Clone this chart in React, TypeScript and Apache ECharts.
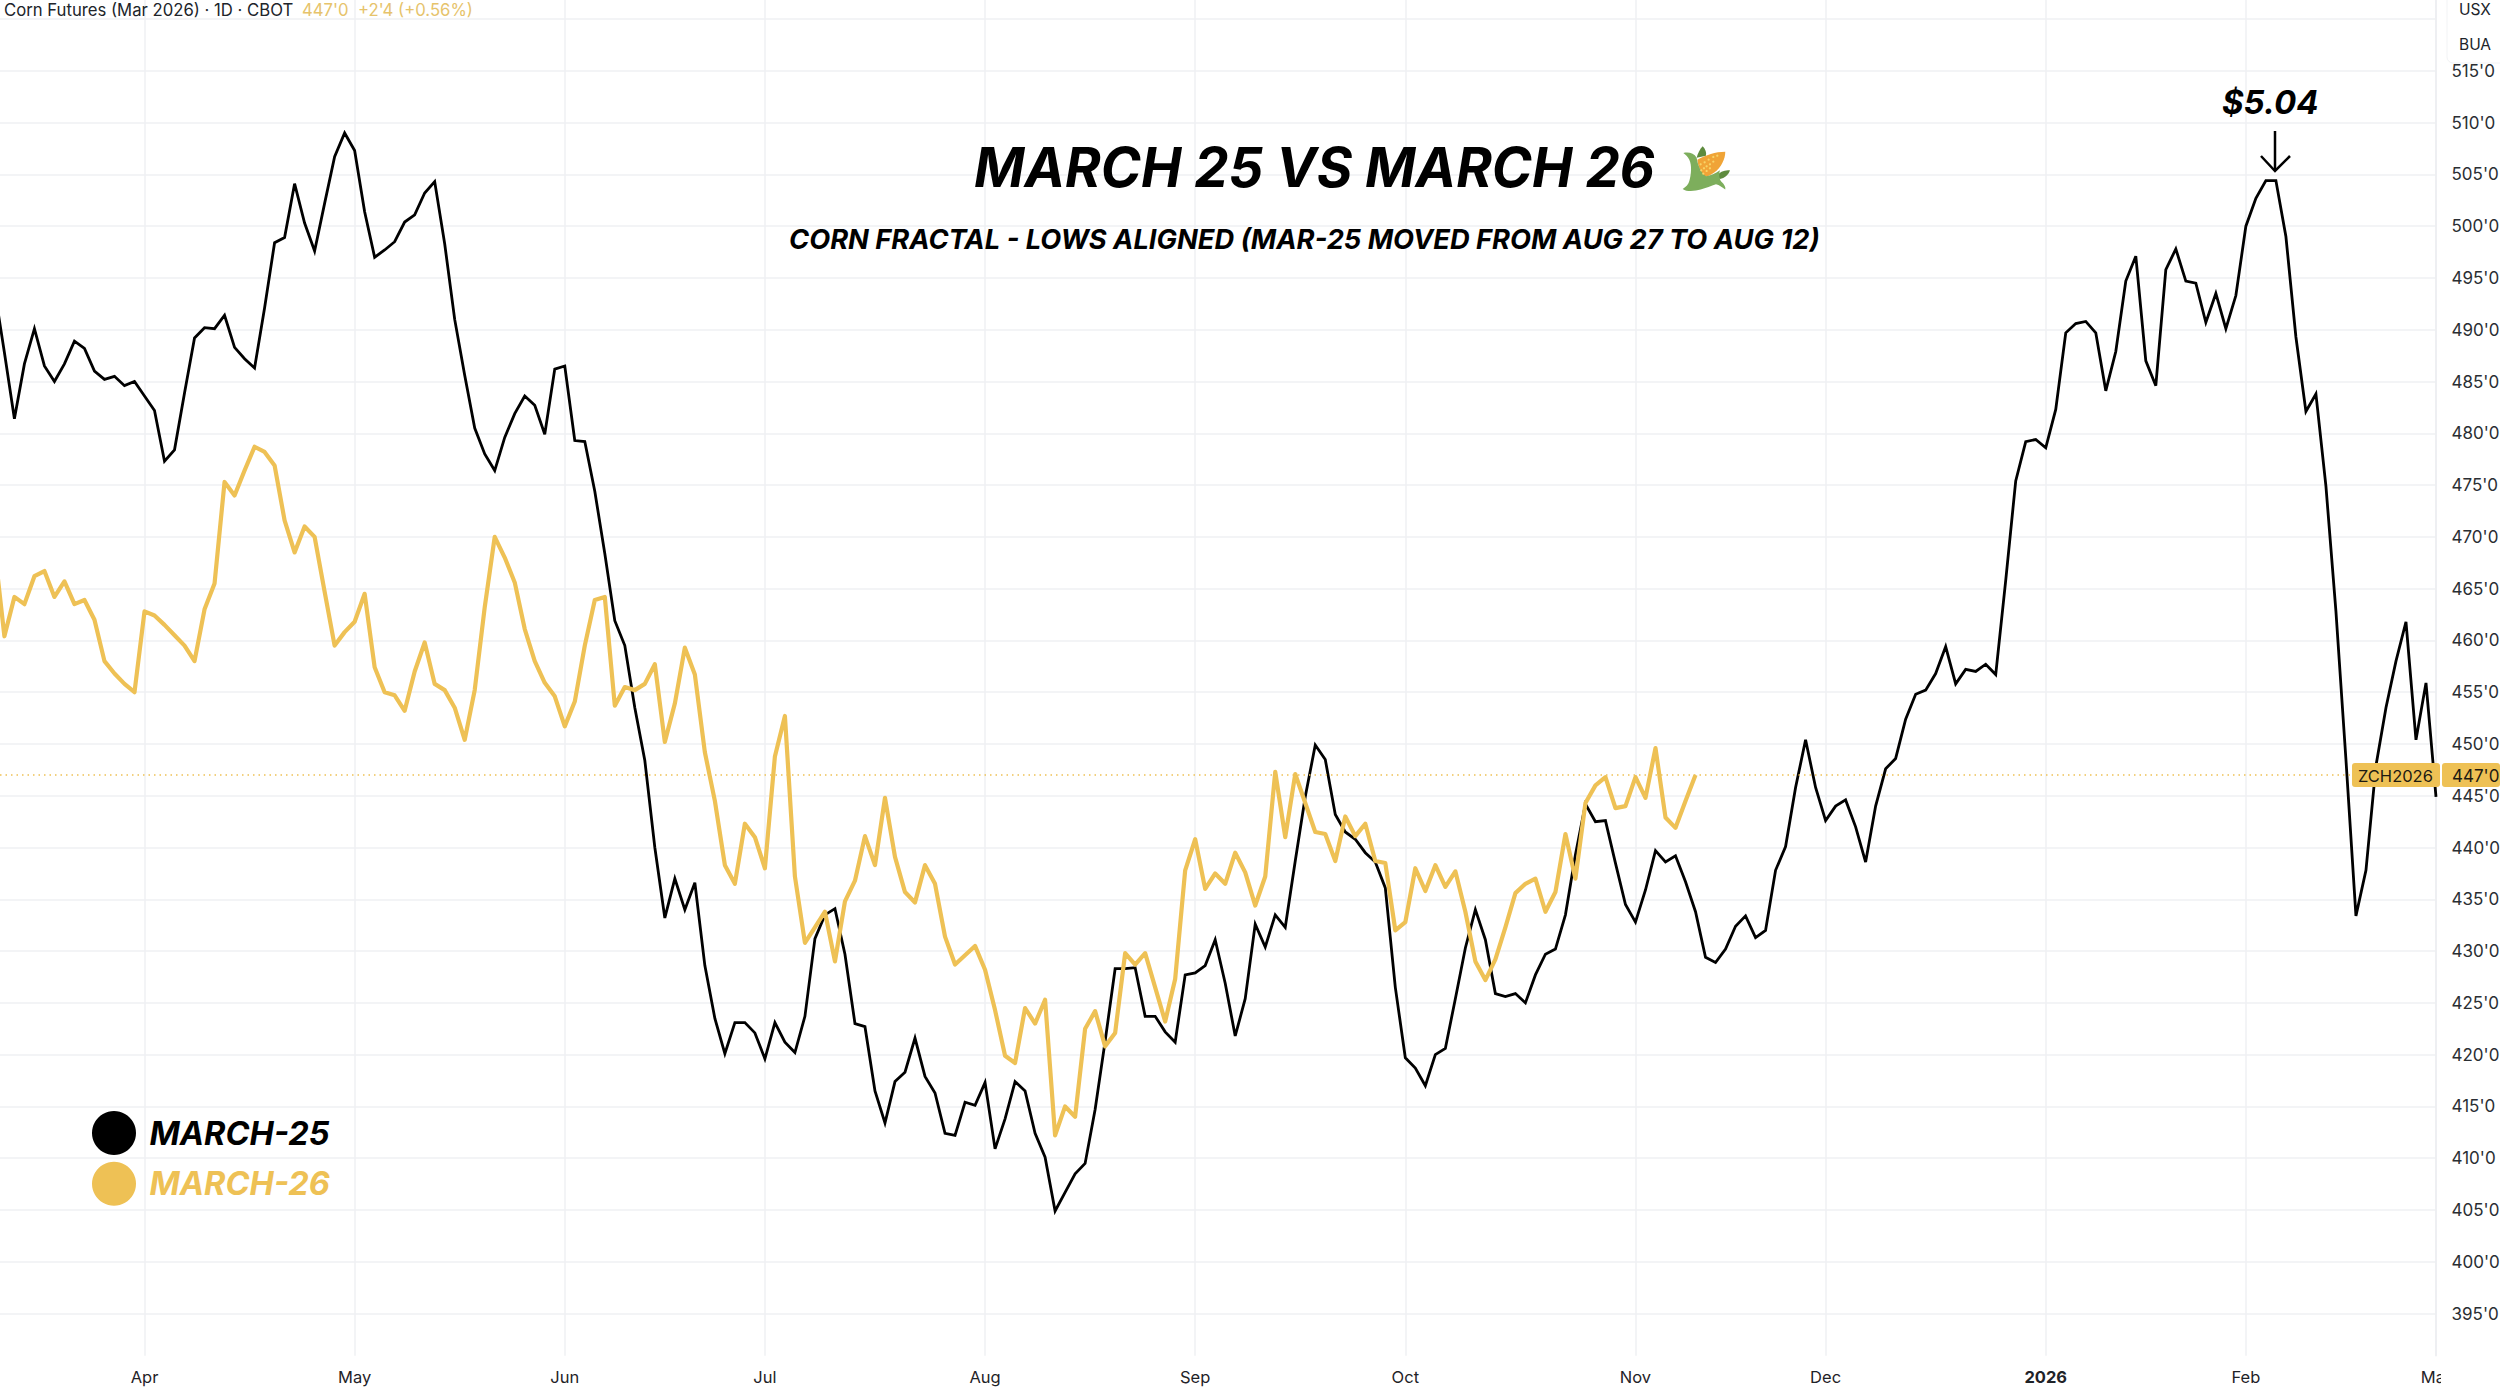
import React, { useEffect, useRef } from "react";
import * as echarts from "echarts";

// Close prices in US cents per bushel, one value per trading bar (bar 0 starts just off the left edge).
const march25 = [
  494.0, 487.8, 481.4, 486.7, 490.1, 486.5, 485.0, 486.7, 488.9, 488.2,
  486.0, 485.2, 485.5, 484.6, 485.0, 483.6, 482.2, 477.3, 478.4, 483.9,
  489.2, 490.2, 490.1, 491.4, 488.3, 487.2, 486.3, 492.1, 498.4, 498.9,
  504.1, 500.3, 497.6, 502.2, 506.7, 509.0, 507.3, 501.4, 497.0, 497.7,
  498.5, 500.4, 501.1, 503.2, 504.3, 498.3, 491.0, 485.6, 480.5, 478.0,
  476.4, 479.6, 481.9, 483.6, 482.7, 479.9, 486.2, 486.5, 479.3, 479.2,
  474.4, 468.4, 461.9, 459.5, 453.5, 448.4, 440.0, 433.2, 437.0, 434.0,
  436.6, 428.6, 423.5, 420.1, 423.1, 423.1, 422.1, 419.6, 423.1, 421.2,
  420.2, 423.7, 431.2, 433.5, 434.1, 429.7, 423.0, 422.7, 416.5, 413.4,
  417.4, 418.3, 421.6, 417.9, 416.3, 412.4, 412.2, 415.4, 415.1, 417.3,
  410.9, 413.8, 417.4, 416.5, 412.4, 410.1, 404.9, 406.7, 408.5, 409.5,
  414.7, 421.3, 428.3, 428.3, 428.4, 423.7, 423.7, 422.2, 421.2, 427.7,
  427.9, 428.6, 431.1, 426.9, 421.8, 425.4, 432.6, 430.4, 433.5, 432.3,
  438.7, 444.9, 449.9, 448.5, 443.2, 441.5, 440.8, 439.5, 438.6, 436.1,
  426.5, 419.7, 418.7, 417.0, 420.0, 420.6, 425.4, 430.3, 434.0, 431.1,
  425.9, 425.6, 425.9, 425.0, 427.7, 429.7, 430.2, 433.5, 439.3, 444.2,
  442.5, 442.6, 438.5, 434.5, 432.8, 435.9, 439.7, 438.6, 439.2, 436.7,
  433.8, 429.4, 428.9, 430.2, 432.4, 433.4, 431.3, 432.0, 437.8, 440.1,
  445.8, 450.4, 445.8, 442.6, 444.0, 444.6, 442.0, 438.6, 444.0, 447.6,
  448.6, 452.4, 454.8, 455.2, 456.8, 459.4, 455.8, 457.2, 457.0, 457.7,
  456.7, 465.8, 475.4, 479.2, 479.4, 478.6, 482.3, 489.7, 490.6, 490.8,
  489.7, 484.1, 487.9, 494.7, 497.1, 487.0, 484.6, 495.8, 497.8, 494.7,
  494.5, 490.7, 493.5, 490.1, 493.3, 500.0, 502.7, 504.4, 504.4, 499.0,
  489.3, 482.1, 483.8, 474.9, 462.8, 448.5, 433.4, 437.8, 447.9, 453.5,
  458.0, 461.8, 450.4, 455.9, 444.9,
];

const march26 = [
  469.0, 460.4, 464.2, 463.5, 466.2, 466.7, 464.2, 465.7, 463.5, 463.9,
  462.0, 458.0, 456.8, 455.8, 455.0, 462.8, 462.4, 461.5, 460.5, 459.5,
  458.0, 463.0, 465.5, 475.3, 474.0, 476.4, 478.7, 478.2, 476.9, 471.6,
  468.5, 471.0, 470.0, 464.7, 459.5, 460.8, 461.8, 464.5, 457.4, 455.0,
  454.7, 453.2, 457.0, 459.8, 455.8, 455.2, 453.5, 450.4, 455.2, 463.2,
  470.0, 468.0, 465.6, 461.1, 458.0, 455.9, 454.6, 451.7, 454.1, 459.5,
  463.9, 464.2, 453.7, 455.5, 455.2, 455.8, 457.7, 450.2, 453.9, 459.3,
  456.7, 449.2, 444.5, 438.3, 436.5, 442.3, 441.0, 438.0, 448.8, 452.7,
  437.2, 430.8, 432.3, 433.8, 429.0, 434.8, 436.8, 441.1, 438.3, 444.8,
  439.1, 435.7, 434.7, 438.3, 436.5, 431.4, 428.7, 429.6, 430.5, 428.2,
  424.3, 419.9, 419.2, 424.5, 423.0, 425.3, 412.2, 415.0, 414.0, 422.5,
  424.2, 420.8, 422.1, 429.8, 428.7, 429.8, 426.5, 423.2, 427.3, 437.8,
  440.8, 436.0, 437.5, 436.5, 439.5, 437.6, 434.4, 437.2, 447.3, 441.0,
  447.1, 444.3, 441.5, 441.3, 438.7, 443.0, 441.1, 442.3, 438.7, 438.5,
  432.0, 432.8, 438.0, 435.8, 438.3, 436.2, 437.7, 433.8, 429.0, 427.2,
  429.2, 432.3, 435.6, 436.5, 437.0, 433.8, 435.7, 441.3, 437.0, 444.3,
  446.0, 446.8, 443.8, 444.0, 446.8, 444.8, 449.6, 442.9, 441.9, 444.5,
  447.0,
];

const monthLabels = ["Apr", "May", "Jun", "Jul", "Aug", "Sep", "Oct", "Nov", "Dec", "2026", "Feb", "Mar"];
const monthBars = [15, 36, 57, 77, 99, 120, 141, 164, 183, 205, 225, 244];
const priceLabels = [395, 400, 405, 410, 415, 420, 425, 430, 435, 440, 445, 450, 455, 460, 465, 470, 475, 480, 485, 490, 495, 500, 505, 510, 515];
const priceGrid = [...priceLabels, 520];
const lastPrice = 447;

const BLACK = "#000000";
const GOLD = "#EEC155";
const FONT = "Inter, 'Noto Sans', sans-serif";

const W = 2500;
const H = 1387;
const PLOT_W = 2436;
const PLOT_H = 1355.8;

echarts.graphic.registerShape(
  "cornHusk",
  echarts.graphic.extendPath(
    "M40 54 C55 50 72 54 80 68 C84 92 92 112 108 124 C122 122 136 116 150 106 C146 120 148 134 156 142 C162 148 168 156 166 164 C158 158 148 150 138 148 C124 152 108 160 92 164 C76 168 52 172 38 162 C48 156 56 148 58 138 C64 118 66 90 58 74 C54 66 48 60 40 54 Z",
    {}
  )
);
echarts.graphic.registerShape(
  "cornCob",
  echarts.graphic.extendPath(
    "M82 74 C108 60 136 50 166 50 C166 72 154 96 134 112 C124 120 112 126 104 126 C92 112 84 94 82 74 Z",
    {}
  )
);
echarts.graphic.registerShape(
  "cornLeafTop",
  echarts.graphic.extendPath("M80 68 C84 54 90 42 98 34 C106 42 110 52 108 62 Z", {})
);
echarts.graphic.registerShape(
  "cornLeafRight",
  echarts.graphic.extendPath("M138 124 C150 110 164 104 180 106 C176 120 164 130 150 132 Z", {})
);

const kernels = [
  [94, 106], [102, 100], [110, 94], [120, 88], [130, 80], [100, 116], [110, 108], [120, 100], [92, 88], [104, 82], [116, 74], [130, 66], [142, 62],
];

function cornGraphic() {
  const shared = { x: 1670, y: 135, scaleX: 1 / 3, scaleY: 1 / 3, z: 90 };
  return [
    { type: "cornLeafTop", ...shared, style: { fill: "#5E8B3E" } },
    { type: "cornLeafRight", ...shared, style: { fill: "#5E8B3E" } },
    { type: "cornCob", ...shared, style: { fill: "#F0A437" } },
    { type: "cornHusk", ...shared, style: { fill: "#7DAE5C" } },
    ...kernels.map(([cx, cy]) => ({
      type: "circle",
      ...shared,
      shape: { cx, cy, r: 3.4 },
      style: { fill: "#F8D467" },
    })),
  ];
}

function text(x: number, y: number, value: string, size: number, fill: string, extra: any = {}) {
  return {
    type: "text",
    x,
    y,
    z: 100,
    style: { text: value, fontFamily: FONT, fontSize: size, fill, textVerticalAlign: "middle", ...extra },
  };
}

const headlineStyle = { fontStyle: "italic", fontWeight: 700 };

function buildOption(): any {
  return {
    animation: false,
    backgroundColor: "#ffffff",
    grid: { left: 0, top: 0, width: PLOT_W, height: PLOT_H, containLabel: false, outerBoundsMode: "none" },
    legend: {
      left: 92,
      top: 1111,
      orient: "vertical",
      icon: "circle",
      itemWidth: 45,
      itemHeight: 44,
      itemGap: 6.8,
      padding: 0,
      selectedMode: false,
      data: [
        { name: "MARCH-25", textStyle: { color: BLACK } },
        { name: "MARCH-26", textStyle: { color: GOLD } },
      ],
      textStyle: {
        fontFamily: FONT,
        fontStyle: "italic",
        fontWeight: 700,
        fontSize: 32.5,
        padding: [12, 0, 0, 8],
      },
    },
    xAxis: {
      type: "value",
      min: 0.56,
      max: 244,
      axisLine: { show: false },
      axisTick: { show: false, customValues: monthBars },
      splitLine: { show: true, lineStyle: { color: "#eff0f3", width: 1.5 } },
      axisLabel: {
        customValues: monthBars,
        margin: 13,
        fontFamily: FONT,
        fontSize: 16.5,
        color: "#1f2328",
        hideOverlap: false,
        showMinLabel: true,
        showMaxLabel: true,
        formatter: (v: number) => {
          const label = monthLabels[monthBars.indexOf(v)] ?? "";
          return label === "2026" ? `{year|${label}}` : label;
        },
        rich: { year: { fontFamily: FONT, fontSize: 16.5, fontWeight: 700, color: "#1f2328" } },
      },
    },
    yAxis: {
      type: "value",
      position: "right",
      min: 390.92,
      max: 521.84,
      axisLine: { show: true, lineStyle: { color: "#eceef1", width: 1.5 } },
      axisTick: { show: false, customValues: priceGrid },
      splitLine: { show: true, lineStyle: { color: "#eff0f3", width: 1.5 } },
      axisLabel: {
        customValues: priceLabels,
        margin: 15.5,
        align: "left",
        fontFamily: FONT,
        fontSize: 17,
        color: "#2a2e33",
        padding: [2, 0, 0, 0],
        formatter: (v: number) => `${v}'0`,
      },
    },
    series: [
      {
        name: "MARCH-25",
        type: "line",
        symbol: "none",
        itemStyle: { color: BLACK },
        lineStyle: { color: BLACK, width: 2.8, join: "miter" },
        data: march25.map((v, i) => [i, v]),
        z: 3,
      },
      {
        name: "MARCH-26",
        type: "line",
        symbol: "none",
        itemStyle: { color: GOLD },
        lineStyle: { color: GOLD, width: 4.2, join: "round" },
        data: march26.map((v, i) => [i, v]),
        z: 4,
        markLine: {
          silent: true,
          symbol: "none",
          label: { show: false },
          lineStyle: { type: [1.5, 4], color: GOLD, width: 1.5 },
          data: [{ yAxis: lastPrice }],
        },
      },
    ],
    graphic: [
      // top-left instrument header
      text(4, 9.5, "Corn Futures (Mar 2026) · 1D · CBOT", 16.7, "#20242a"),
      text(302, 9.5, "447'0", 16.7, "#E6C36B"),
      text(358, 9.5, "+2'4 (+0.56%)", 16.7, "#E6C36B"),
      // title block
      text(974, 167, "MARCH 25 VS MARCH 26", 54.3, BLACK, headlineStyle),
      text(789, 239, "CORN FRACTAL - LOWS ALIGNED (MAR-25 MOVED FROM AUG 27 TO AUG 12)", 27.25, BLACK, headlineStyle),
      ...cornGraphic(),
      // peak annotation
      text(2222, 102, "$5.04", 33, BLACK, headlineStyle),
      { type: "line", z: 100, shape: { x1: 2275, y1: 131, x2: 2275, y2: 171 }, style: { stroke: BLACK, lineWidth: 2.5 } },
      { type: "polyline", z: 100, shape: { points: [[2261, 156], [2275, 171], [2290, 156]] }, style: { stroke: BLACK, lineWidth: 2.5, fill: "none" } },
      // unit box over the top of the price scale
      { type: "rect", z: 95, shape: { x: 2447, y: -10, width: 70, height: 73, r: 6 }, style: { fill: "#ffffff", stroke: "#f2f3f5", lineWidth: 1 } },
      text(2459, 9, "USX", 15.5, "#20242a"),
      text(2459, 44, "BUA", 15.5, "#20242a"),
      // last-price tags
      { type: "rect", z: 95, shape: { x: 2352, y: 763, width: 88, height: 24, r: 3 }, style: { fill: GOLD } },
      { type: "rect", z: 95, shape: { x: 2442, y: 763, width: 58, height: 24, r: 3 }, style: { fill: GOLD } },
      text(2358, 775.5, "ZCH2026", 16.5, "#1d1a12"),
      text(2452, 775.5, "447'0", 17, "#1d1a12"),
      // price pane cuts off the last month label
      { type: "rect", z: 95, shape: { x: 2441, y: 1357, width: 59, height: 30 }, style: { fill: "#ffffff" } },
    ],
  };
}

export default function App() {
  const ref = useRef<HTMLDivElement>(null);
  useEffect(() => {
    document.body.style.margin = "0";
    const chart = echarts.init(ref.current!, undefined, { renderer: "svg", width: W, height: H });
    chart.setOption(buildOption());
    return () => chart.dispose();
  }, []);
  return <div ref={ref} style={{ width: W, height: H, overflow: "hidden" }} />;
}
